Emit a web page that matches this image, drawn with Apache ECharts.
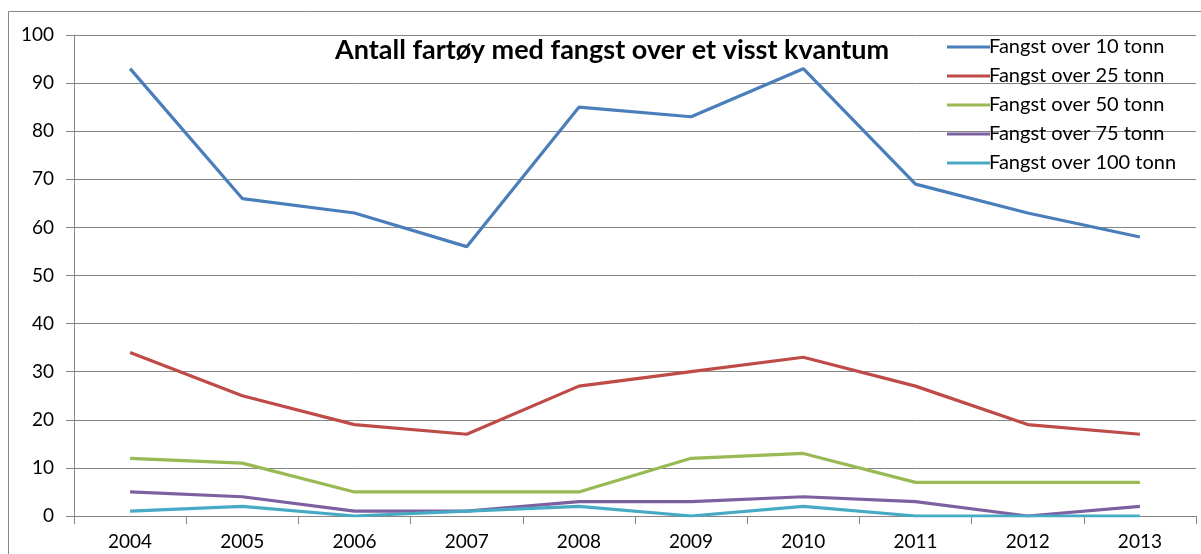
<!DOCTYPE html>
<html>
<head>
<meta charset="utf-8">
<script src="https://cdn.jsdelivr.net/npm/echarts@6/dist/echarts.min.js"></script>
<style>
html,body{margin:0;padding:0;background:#fff;}
#c{width:1201px;height:554px;}
</style>
</head>
<body>
<div id="c"></div>
<script>
var years = ['2004','2005','2006','2007','2008','2009','2010','2011','2012','2013'];
var names = ['Fangst over 10 tonn','Fangst over 25 tonn','Fangst over 50 tonn','Fangst over 75 tonn','Fangst over 100 tonn'];
var over10  = [93, 66, 63, 56, 85, 83, 93, 69, 63, 58];
var over25  = [34, 25, 19, 17, 27, 30, 33, 27, 19, 17];
var over50  = [12, 11, 5, 5, 5, 12, 13, 7, 7, 7];
var over75  = [5, 4, 1, 1, 3, 3, 4, 3, 0, 2];
var over100 = [1, 2, 0, 1, 2, 0, 2, 0, 0, 0];
var colors = ['#4A7EBB','#BE4B48','#98B954','#7D60A0','#46AAC5'];
var values = [over10, over25, over50, over75, over100];
var FONT = 'Lato';

var chart = echarts.init(document.getElementById('c'));
chart.setOption({
  animation: false,
  color: colors,
  title: {
    text: 'Antall fartøy med fangst over et visst kvantum',
    left: 607, top: 32, textAlign: 'center',
    textStyle: {fontFamily: FONT, fontWeight: 'bold', fontSize: 27, color: '#000'}
  },
  graphic: [{
    type: 'polyline', silent: true, z: -1,
    shape: {points: [[8.5, 560], [8.5, 11.5], [1201, 11.5]]},
    style: {fill: 'none', stroke: '#888', lineWidth: 1}
  }],
  legend: {
    orient: 'vertical', left: 942, top: 32,
    itemWidth: 43, itemHeight: 3, itemGap: 9,
    icon: 'rect',
    textStyle: {fontFamily: FONT, fontSize: 20, color: '#000', padding: [0,0,0,-6]},
    data: names
  },
  grid: {left: 74, right: 5, top: 35, bottom: 38, show: false},
  xAxis: {
    type: 'category', data: years, boundaryGap: true,
    axisLine: {lineStyle: {color: '#868686'}},
    axisTick: {show: true, length: 8, lineStyle: {color: '#868686'}},
    axisLabel: {fontFamily: FONT, fontSize: 19, color: '#000', margin: 16},
    splitLine: {show: false},
    splitArea: {show: false}
  },
  yAxis: {
    type: 'value', min: 0, max: 100, interval: 10,
    axisLine: {show: true, lineStyle: {color: '#868686'}},
    axisTick: {show: true, length: 8, lineStyle: {color: '#868686'}},
    axisLabel: {fontFamily: FONT, fontSize: 19, color: '#000', margin: 20},
    splitLine: {lineStyle: {color: '#868686'}}
  },
  series: names.map(function(n, i){
    return {name: n, type: 'line', data: values[i], symbol: 'none',
      lineStyle: {width: 3.2, color: colors[i]}, itemStyle: {color: colors[i]}};
  })
});
</script>
</body>
</html>
